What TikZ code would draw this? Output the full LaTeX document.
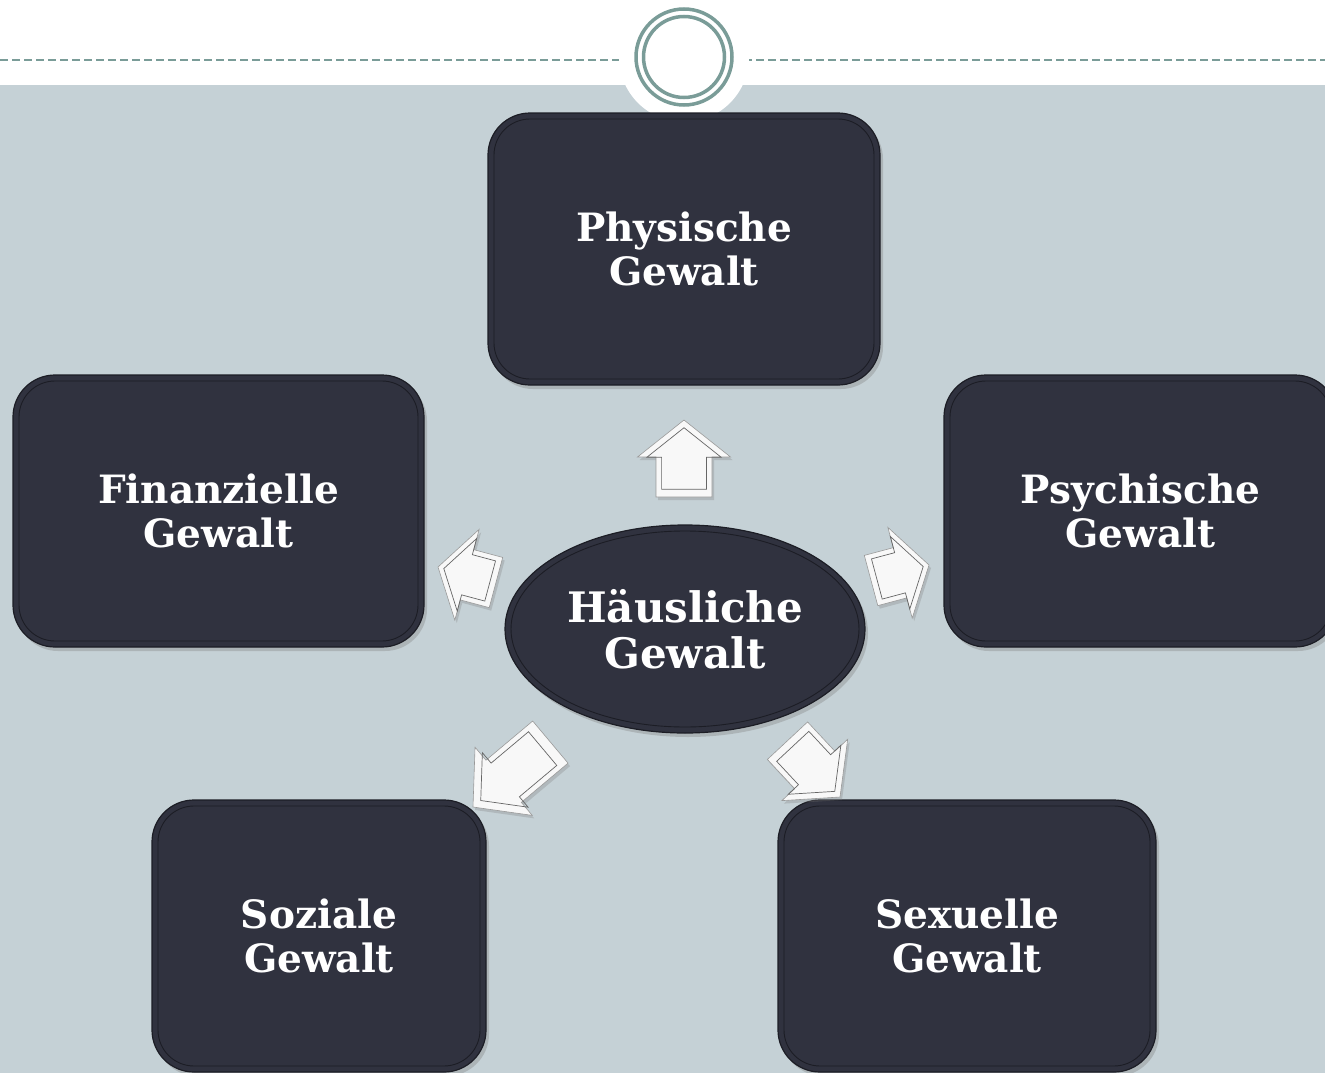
\documentclass[tikz,border=0pt]{standalone}
\usepackage{fontspec}
\setmainfont{DejaVu Serif}
\usetikzlibrary{shadows,shapes.geometric}
\definecolor{bg}{HTML}{C5D1D6}
\definecolor{boxfill}{HTML}{30323F}
\definecolor{boxline}{HTML}{1C1D25}
\definecolor{ringc}{HTML}{7A9C98}
\definecolor{arrfill}{HTML}{F8F8F8}
\tikzset{
  arrp/.style n args={4}{insert path={(0,0) -- (-#3,#2/2) -- (-#3,#4/2) -- (-#1,#4/2) -- (-#1,-#4/2) -- (-#3,-#4/2) -- (-#3,-#2/2) -- cycle}},
  boxnode/.style={draw=boxline, line width=1.2pt, fill=boxfill, rounded corners=42pt, text=white, align=center,
    font=\fontsize{39}{44}\selectfont\bfseries, inner sep=0pt, outer sep=0pt,
    drop shadow={opacity=0.35, shadow xshift=3pt, shadow yshift=-4pt}},
  innerline/.style={draw=boxline, line width=0.9pt},
  arrout/.style={draw=black!40, line width=0.6pt},
  arrin/.style={draw=black!60, line width=0.7pt},
}
\newcommand\blkarrow[7]{%
  \begin{scope}[shift={(#1,#2)},rotate=#3]
    \fill[arrfill, drop shadow={opacity=0.3, shadow xshift=2pt, shadow yshift=-3pt}, arrp={#4}{#5}{#6}{#7}];
    \draw[arrout, arrp={#4}{#5}{#6}{#7}];
    \draw[arrin, shift={(-#4/2,0)}, scale=0.8, shift={(#4/2,0)}, arrp={#4}{#5}{#6}{#7}];
  \end{scope}}
\begin{document}
\begin{tikzpicture}[x=1pt,y=-1pt]
\useasboundingbox (0,0) rectangle (1325,1073);
\fill[white] (0,0) rectangle (1325,1073);
\draw[ringc, line width=1.5pt, dash pattern=on 8pt off 4pt] (0,60) -- (1325,60);
\fill[bg] (0,85) rectangle (1325,1073);
\fill[white] (684,57) circle[radius=65];
\node[circle, draw=ringc, line width=3.5pt, minimum size=96pt, inner sep=0pt] (ringout) at (684,57) {};
\node[circle, draw=ringc, line width=3.5pt, minimum size=81pt, inner sep=0pt] (ringin) at (684,57) {};

\node[boxnode, minimum width=392pt, minimum height=272pt] (phy) at (684,249) {Physische\\Gewalt};
\node[boxnode, minimum width=411pt, minimum height=272pt] (fin) at (218.5,511) {Finanzielle\\Gewalt};
\node[boxnode, minimum width=393pt, minimum height=272pt] (psy) at (1140.5,511) {Psychische\\Gewalt};
\node[boxnode, minimum width=334pt, minimum height=272pt] (soz) at (319,936) {Soziale\\Gewalt};
\node[boxnode, minimum width=378pt, minimum height=272pt] (sex) at (967,936) {Sexuelle\\Gewalt};
\foreach \n in {phy,fin,psy,soz,sex}{
  \draw[innerline, rounded corners=36pt] ([shift={(6,6)}]\n.north west) rectangle ([shift={(-6,-6)}]\n.south east);
}
\node[ellipse, draw=boxline, line width=1.2pt, fill=boxfill, text=white, align=center,
  font=\fontsize{42}{46}\selectfont\bfseries, inner sep=0pt, outer sep=0pt,
  minimum width=360pt, minimum height=208pt,
  drop shadow={opacity=0.35, shadow xshift=3pt, shadow yshift=-4pt}] (hg) at (685,629) {Häusliche\\Gewalt};
\draw[innerline] (hg.center) ellipse[x radius=174, y radius=98];

\blkarrow{684}{420}{90}{77}{93}{37}{56}
\blkarrow{438}{567}{165}{60}{94}{30}{52}
\blkarrow{929}{565}{15}{60}{94}{30}{52}
\blkarrow{473}{807}{-140}{101}{89}{40}{55}
\blkarrow{840}{797}{-47}{77}{90}{37}{55}
\end{tikzpicture}
\end{document}
